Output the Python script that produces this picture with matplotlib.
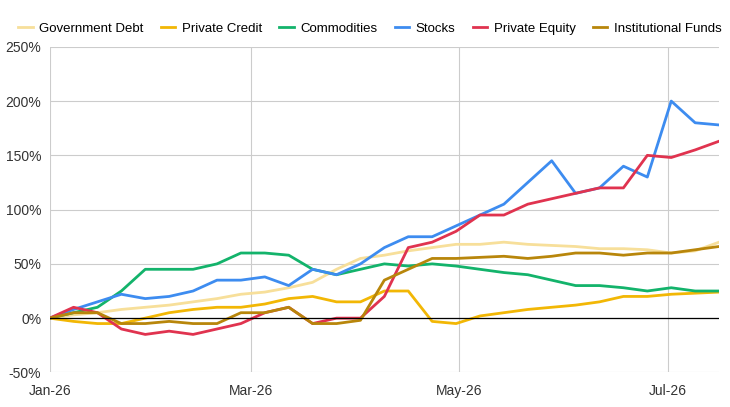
import numpy as np
import pandas as pd
import matplotlib
matplotlib.use("Agg")
import matplotlib.pyplot as plt
import matplotlib.dates as mdates
from matplotlib.ticker import FuncFormatter

# weekly samples from 2026-01-01
dates = pd.date_range("2026-01-01", periods=29, freq="7D")

gov_debt = [0, 3, 5, 8, 10, 12, 15, 18, 22, 24, 28, 33, 45, 55, 58, 62, 65, 68, 68, 70,
            68, 67, 66, 64, 64, 63, 60, 62, 70]
private_credit = [0, -3, -5, -5, 0, 5, 8, 10, 10, 13, 18, 20, 15, 15, 25, 25, -3, -5, 2, 5,
                  8, 10, 12, 15, 20, 20, 22, 23, 24]
commodities = [0, 5, 10, 25, 45, 45, 45, 50, 60, 60, 58, 45, 40, 45, 50, 48, 50, 48, 45, 42,
               40, 35, 30, 30, 28, 25, 28, 25, 25]
stocks = [0, 8, 15, 22, 18, 20, 25, 35, 35, 38, 30, 45, 40, 50, 65, 75, 75, 85, 95, 105,
          125, 145, 115, 120, 140, 130, 200, 180, 178]
private_equity = [0, 10, 5, -10, -15, -12, -15, -10, -5, 5, 10, -5, 0, 0, 20, 65, 70, 80, 95, 95,
                  105, 110, 115, 120, 120, 150, 148, 155, 163]
inst_funds = [0, 5, 5, -5, -5, -3, -5, -5, 5, 5, 10, -5, -5, -2, 35, 45, 55, 55, 56, 57,
              55, 57, 60, 60, 58, 60, 60, 63, 66]

series = [
    ("Government Debt", gov_debt, "#f7df9a"),
    ("Private Credit", private_credit, "#f2b705"),
    ("Commodities", commodities, "#13b36b"),
    ("Stocks", stocks, "#3d8cf0"),
    ("Private Equity", private_equity, "#e0334f"),
    ("Institutional Funds", inst_funds, "#b8860b"),
]

plt.rcParams["font.family"] = ["Liberation Sans", "DejaVu Sans"]
fig, ax = plt.subplots(figsize=(7.3, 4.07), dpi=100)
fig.subplots_adjust(left=0.068, right=0.985, top=0.885, bottom=0.085)

for name, vals, color in series:
    ax.plot(dates, vals, color=color, lw=2, label=name)

ax.axhline(0, color="black", lw=0.9)
ax.set_ylim(-50, 250)
ax.set_yticks(range(-50, 251, 50))
ax.yaxis.set_major_formatter(FuncFormatter(lambda v, p: f"{v:.0f}%"))
ax.set_xlim(pd.Timestamp("2026-01-01"), dates[-1])
ax.xaxis.set_major_locator(mdates.MonthLocator(bymonth=[1, 3, 5, 7]))
ax.xaxis.set_major_formatter(mdates.DateFormatter("%b-%y"))
ax.grid(True, color="#cccccc", lw=0.8)
ax.set_axisbelow(True)
for s in ax.spines.values():
    s.set_visible(False)
ax.tick_params(length=0, labelsize=10, colors="#333333")
ax.tick_params(axis="x", pad=8)
ax.tick_params(axis="y", pad=6)

ax.legend(loc="lower left", bbox_to_anchor=(-0.065, 1.0), ncol=6, frameon=False,
          fontsize=9.5, handlelength=1.1, columnspacing=1.3, handletextpad=0.5)

plt.savefig("out.png", dpi=100)
